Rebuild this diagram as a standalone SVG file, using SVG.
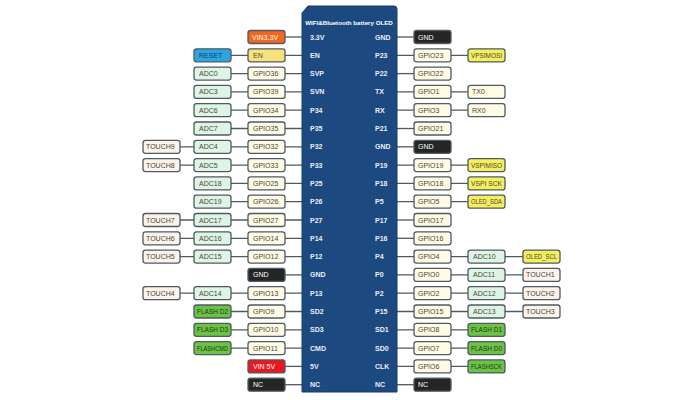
<svg xmlns="http://www.w3.org/2000/svg" width="700" height="400" viewBox="0 0 700 400">
<style>
rect.bx{stroke:#4f5a62;stroke-width:1.3}
.gp{fill:#fffbe4}
.adc{fill:#def4e4}
.tch{fill:#fcf2e9}
.dk{fill:#252525}
.yl{fill:#f5ee5e}
.fl{fill:#6bc244}
.en{fill:#f9e27b}
.rs{fill:#2aa6e0}
.or{fill:#f2661f}
.rd{fill:#e9181f}
text{font-family:"Liberation Sans",Arial,sans-serif;font-size:7px;fill:#4a4838}
.w{fill:#ffffff}
.g{fill:#1e3a12}
.nv{fill:#163c70}
.pin{fill:#e9eef6;font-weight:bold}
.ttl{fill:#ffffff;font-weight:bold;font-size:6.2px}
#connectors line{stroke:#4f5a62;stroke-width:1.3}
</style>
<rect width="700" height="400" fill="#ffffff"/>
<g id="connectors">
<line x1="285" y1="37" x2="302" y2="37"/>
<line x1="231" y1="55.3" x2="302" y2="55.3"/>
<line x1="231" y1="73.6" x2="302" y2="73.6"/>
<line x1="231" y1="91.9" x2="302" y2="91.9"/>
<line x1="231" y1="110.2" x2="302" y2="110.2"/>
<line x1="231" y1="128.5" x2="302" y2="128.5"/>
<line x1="179" y1="146.8" x2="302" y2="146.8"/>
<line x1="179" y1="165.1" x2="302" y2="165.1"/>
<line x1="231" y1="183.4" x2="302" y2="183.4"/>
<line x1="231" y1="201.7" x2="302" y2="201.7"/>
<line x1="179" y1="220" x2="302" y2="220"/>
<line x1="179" y1="238.3" x2="302" y2="238.3"/>
<line x1="179" y1="256.6" x2="302" y2="256.6"/>
<line x1="285" y1="274.9" x2="302" y2="274.9"/>
<line x1="179" y1="293.2" x2="302" y2="293.2"/>
<line x1="231" y1="311.5" x2="302" y2="311.5"/>
<line x1="231" y1="329.8" x2="302" y2="329.8"/>
<line x1="231" y1="348.1" x2="302" y2="348.1"/>
<line x1="285" y1="366.4" x2="302" y2="366.4"/>
<line x1="285" y1="384.7" x2="302" y2="384.7"/>
<line x1="397" y1="37" x2="414" y2="37"/>
<line x1="397" y1="55.3" x2="468" y2="55.3"/>
<line x1="397" y1="73.6" x2="414" y2="73.6"/>
<line x1="397" y1="91.9" x2="468" y2="91.9"/>
<line x1="397" y1="110.2" x2="468" y2="110.2"/>
<line x1="397" y1="128.5" x2="414" y2="128.5"/>
<line x1="397" y1="146.8" x2="414" y2="146.8"/>
<line x1="397" y1="165.1" x2="468" y2="165.1"/>
<line x1="397" y1="183.4" x2="468" y2="183.4"/>
<line x1="397" y1="201.7" x2="468" y2="201.7"/>
<line x1="397" y1="220" x2="414" y2="220"/>
<line x1="397" y1="238.3" x2="414" y2="238.3"/>
<line x1="397" y1="256.6" x2="523" y2="256.6"/>
<line x1="397" y1="274.9" x2="523" y2="274.9"/>
<line x1="397" y1="293.2" x2="523" y2="293.2"/>
<line x1="397" y1="311.5" x2="523" y2="311.5"/>
<line x1="397" y1="329.8" x2="468" y2="329.8"/>
<line x1="397" y1="348.1" x2="468" y2="348.1"/>
<line x1="397" y1="366.4" x2="468" y2="366.4"/>
<line x1="397" y1="384.7" x2="414" y2="384.7"/>
</g>
<g id="chip">
<path d="M308,6 L394,6 Q397,6 397,9 L397,392 L302,392 L302,13 Z" fill="#1c4a80" stroke="#173d6b" stroke-width="1"/>
<text class="ttl" x="349" y="25" text-anchor="middle">WIFI&amp;Bluetooth battery OLED</text>
<text class="pin" x="310" y="39.5">3.3V</text>
<text class="pin" x="310" y="57.8">EN</text>
<text class="pin" x="310" y="76.1">SVP</text>
<text class="pin" x="310" y="94.4">SVN</text>
<text class="pin" x="310" y="112.7">P34</text>
<text class="pin" x="310" y="131">P35</text>
<text class="pin" x="310" y="149.3">P32</text>
<text class="pin" x="310" y="167.6">P33</text>
<text class="pin" x="310" y="185.9">P25</text>
<text class="pin" x="310" y="204.2">P26</text>
<text class="pin" x="310" y="222.5">P27</text>
<text class="pin" x="310" y="240.8">P14</text>
<text class="pin" x="310" y="259.1">P12</text>
<text class="pin" x="310" y="277.4">GND</text>
<text class="pin" x="310" y="295.7">P13</text>
<text class="pin" x="310" y="314">SD2</text>
<text class="pin" x="310" y="332.3">SD3</text>
<text class="pin" x="310" y="350.6">CMD</text>
<text class="pin" x="310" y="368.9">5V</text>
<text class="pin" x="310" y="387.2">NC</text>
<text class="pin" x="375" y="39.5">GND</text>
<text class="pin" x="375" y="57.8">P23</text>
<text class="pin" x="375" y="76.1">P22</text>
<text class="pin" x="375" y="94.4">TX</text>
<text class="pin" x="375" y="112.7">RX</text>
<text class="pin" x="375" y="131">P21</text>
<text class="pin" x="375" y="149.3">GND</text>
<text class="pin" x="375" y="167.6">P19</text>
<text class="pin" x="375" y="185.9">P18</text>
<text class="pin" x="375" y="204.2">P5</text>
<text class="pin" x="375" y="222.5">P17</text>
<text class="pin" x="375" y="240.8">P16</text>
<text class="pin" x="375" y="259.1">P4</text>
<text class="pin" x="375" y="277.4">P0</text>
<text class="pin" x="375" y="295.7">P2</text>
<text class="pin" x="375" y="314">P15</text>
<text class="pin" x="375" y="332.3">SD1</text>
<text class="pin" x="375" y="350.6">SD0</text>
<text class="pin" x="375" y="368.9">CLK</text>
<text class="pin" x="375" y="387.2">NC</text>
</g>
<!-- left GPIO column -->
<g id="vin33"><rect class="bx or" x="248" y="30.5" width="37" height="13" rx="2.5"/><text class="w" x="252" y="39.5">VIN3.3V</text></g>
<g id="en"><rect class="bx en" x="248" y="48.8" width="37" height="13" rx="2.5"/><text x="253" y="57.8">EN</text></g>
<g id="gpio36"><rect class="bx gp" x="248" y="67.1" width="37" height="13" rx="2.5"/><text x="253" y="76.1">GPIO36</text></g>
<g id="gpio39"><rect class="bx gp" x="248" y="85.4" width="37" height="13" rx="2.5"/><text x="253" y="94.4">GPIO39</text></g>
<g id="gpio34"><rect class="bx gp" x="248" y="103.7" width="37" height="13" rx="2.5"/><text x="253" y="112.7">GPIO34</text></g>
<g id="gpio35"><rect class="bx gp" x="248" y="122" width="37" height="13" rx="2.5"/><text x="253" y="131">GPIO35</text></g>
<g id="gpio32"><rect class="bx gp" x="248" y="140.3" width="37" height="13" rx="2.5"/><text x="253" y="149.3">GPIO32</text></g>
<g id="gpio33"><rect class="bx gp" x="248" y="158.6" width="37" height="13" rx="2.5"/><text x="253" y="167.6">GPIO33</text></g>
<g id="gpio25"><rect class="bx gp" x="248" y="176.9" width="37" height="13" rx="2.5"/><text x="253" y="185.9">GPIO25</text></g>
<g id="gpio26"><rect class="bx gp" x="248" y="195.2" width="37" height="13" rx="2.5"/><text x="253" y="204.2">GPIO26</text></g>
<g id="gpio27"><rect class="bx gp" x="248" y="213.5" width="37" height="13" rx="2.5"/><text x="253" y="222.5">GPIO27</text></g>
<g id="gpio14"><rect class="bx gp" x="248" y="231.8" width="37" height="13" rx="2.5"/><text x="253" y="240.8">GPIO14</text></g>
<g id="gpio12"><rect class="bx gp" x="248" y="250.1" width="37" height="13" rx="2.5"/><text x="253" y="259.1">GPIO12</text></g>
<g id="gndL"><rect class="bx dk" x="248" y="268.4" width="37" height="13" rx="2.5"/><text class="w" x="253" y="277.4">GND</text></g>
<g id="gpio13"><rect class="bx gp" x="248" y="286.7" width="37" height="13" rx="2.5"/><text x="253" y="295.7">GPIO13</text></g>
<g id="gpio9"><rect class="bx gp" x="248" y="305" width="37" height="13" rx="2.5"/><text x="253" y="314">GPIO9</text></g>
<g id="gpio10"><rect class="bx gp" x="248" y="323.3" width="37" height="13" rx="2.5"/><text x="253" y="332.3">GPIO10</text></g>
<g id="gpio11"><rect class="bx gp" x="248" y="341.6" width="37" height="13" rx="2.5"/><text x="253" y="350.6">GPIO11</text></g>
<g id="vin5"><rect class="bx rd" x="248" y="359.9" width="37" height="13" rx="2.5"/><text class="w" x="253" y="368.9">VIN 5V</text></g>
<g id="ncL"><rect class="bx dk" x="248" y="378.2" width="37" height="13" rx="2.5"/><text class="w" x="253" y="387.2">NC</text></g>
<!-- left ADC column -->
<g id="reset"><rect class="bx rs" x="194" y="48.8" width="37" height="13" rx="2.5"/><text class="nv" x="199" y="57.8">RESET</text></g>
<g id="adc0"><rect class="bx adc" x="194" y="67.1" width="37" height="13" rx="2.5"/><text x="199" y="76.1">ADC0</text></g>
<g id="adc3"><rect class="bx adc" x="194" y="85.4" width="37" height="13" rx="2.5"/><text x="199" y="94.4">ADC3</text></g>
<g id="adc6"><rect class="bx adc" x="194" y="103.7" width="37" height="13" rx="2.5"/><text x="199" y="112.7">ADC6</text></g>
<g id="adc7"><rect class="bx adc" x="194" y="122" width="37" height="13" rx="2.5"/><text x="199" y="131">ADC7</text></g>
<g id="adc4"><rect class="bx adc" x="194" y="140.3" width="37" height="13" rx="2.5"/><text x="199" y="149.3">ADC4</text></g>
<g id="adc5"><rect class="bx adc" x="194" y="158.6" width="37" height="13" rx="2.5"/><text x="199" y="167.6">ADC5</text></g>
<g id="adc18"><rect class="bx adc" x="194" y="176.9" width="37" height="13" rx="2.5"/><text x="199" y="185.9">ADC18</text></g>
<g id="adc19"><rect class="bx adc" x="194" y="195.2" width="37" height="13" rx="2.5"/><text x="199" y="204.2">ADC19</text></g>
<g id="adc17"><rect class="bx adc" x="194" y="213.5" width="37" height="13" rx="2.5"/><text x="199" y="222.5">ADC17</text></g>
<g id="adc16"><rect class="bx adc" x="194" y="231.8" width="37" height="13" rx="2.5"/><text x="199" y="240.8">ADC16</text></g>
<g id="adc15"><rect class="bx adc" x="194" y="250.1" width="37" height="13" rx="2.5"/><text x="199" y="259.1">ADC15</text></g>
<g id="adc14"><rect class="bx adc" x="194" y="286.7" width="37" height="13" rx="2.5"/><text x="199" y="295.7">ADC14</text></g>
<g id="flashd2"><rect class="bx fl" x="194" y="305" width="37" height="13" rx="2.5"/><text class="g" x="197" y="314" textLength="31" lengthAdjust="spacingAndGlyphs">FLASH D2</text></g>
<g id="flashd3"><rect class="bx fl" x="194" y="323.3" width="37" height="13" rx="2.5"/><text class="g" x="197" y="332.3" textLength="31" lengthAdjust="spacingAndGlyphs">FLASH D3</text></g>
<g id="flashcmd"><rect class="bx fl" x="194" y="341.6" width="37" height="13" rx="2.5"/><text class="g" x="197" y="350.6" textLength="31" lengthAdjust="spacingAndGlyphs">FLASHCMD</text></g>
<!-- left TOUCH column -->
<g id="touch9"><rect class="bx tch" x="143" y="140.3" width="37" height="13" rx="2.5"/><text x="146" y="149.3">TOUCH9</text></g>
<g id="touch8"><rect class="bx tch" x="143" y="158.6" width="37" height="13" rx="2.5"/><text x="146" y="167.6">TOUCH8</text></g>
<g id="touch7"><rect class="bx tch" x="143" y="213.5" width="37" height="13" rx="2.5"/><text x="146" y="222.5">TOUCH7</text></g>
<g id="touch6"><rect class="bx tch" x="143" y="231.8" width="37" height="13" rx="2.5"/><text x="146" y="240.8">TOUCH6</text></g>
<g id="touch5"><rect class="bx tch" x="143" y="250.1" width="37" height="13" rx="2.5"/><text x="146" y="259.1">TOUCH5</text></g>
<g id="touch4"><rect class="bx tch" x="143" y="286.7" width="37" height="13" rx="2.5"/><text x="146" y="295.7">TOUCH4</text></g>
<!-- right GPIO column -->
<g id="gndR1"><rect class="bx dk" x="414" y="30.5" width="37" height="13" rx="2.5"/><text class="w" x="418" y="39.5">GND</text></g>
<g id="gpio23"><rect class="bx gp" x="414" y="48.8" width="37" height="13" rx="2.5"/><text x="418" y="57.8">GPIO23</text></g>
<g id="gpio22"><rect class="bx gp" x="414" y="67.1" width="37" height="13" rx="2.5"/><text x="418" y="76.1">GPIO22</text></g>
<g id="gpio1"><rect class="bx gp" x="414" y="85.4" width="37" height="13" rx="2.5"/><text x="418" y="94.4">GPIO1</text></g>
<g id="gpio3"><rect class="bx gp" x="414" y="103.7" width="37" height="13" rx="2.5"/><text x="418" y="112.7">GPIO3</text></g>
<g id="gpio21"><rect class="bx gp" x="414" y="122" width="37" height="13" rx="2.5"/><text x="418" y="131">GPIO21</text></g>
<g id="gndR2"><rect class="bx dk" x="414" y="140.3" width="37" height="13" rx="2.5"/><text class="w" x="418" y="149.3">GND</text></g>
<g id="gpio19"><rect class="bx gp" x="414" y="158.6" width="37" height="13" rx="2.5"/><text x="418" y="167.6">GPIO19</text></g>
<g id="gpio18"><rect class="bx gp" x="414" y="176.9" width="37" height="13" rx="2.5"/><text x="418" y="185.9">GPIO18</text></g>
<g id="gpio5"><rect class="bx gp" x="414" y="195.2" width="37" height="13" rx="2.5"/><text x="418" y="204.2">GPIO5</text></g>
<g id="gpio17"><rect class="bx gp" x="414" y="213.5" width="37" height="13" rx="2.5"/><text x="418" y="222.5">GPIO17</text></g>
<g id="gpio16"><rect class="bx gp" x="414" y="231.8" width="37" height="13" rx="2.5"/><text x="418" y="240.8">GPIO16</text></g>
<g id="gpio4"><rect class="bx gp" x="414" y="250.1" width="37" height="13" rx="2.5"/><text x="418" y="259.1">GPIO4</text></g>
<g id="gpio0"><rect class="bx gp" x="414" y="268.4" width="37" height="13" rx="2.5"/><text x="418" y="277.4">GPIO0</text></g>
<g id="gpio2"><rect class="bx gp" x="414" y="286.7" width="37" height="13" rx="2.5"/><text x="418" y="295.7">GPIO2</text></g>
<g id="gpio15"><rect class="bx gp" x="414" y="305" width="37" height="13" rx="2.5"/><text x="418" y="314">GPIO15</text></g>
<g id="gpio8"><rect class="bx gp" x="414" y="323.3" width="37" height="13" rx="2.5"/><text x="418" y="332.3">GPIO8</text></g>
<g id="gpio7"><rect class="bx gp" x="414" y="341.6" width="37" height="13" rx="2.5"/><text x="418" y="350.6">GPIO7</text></g>
<g id="gpio6"><rect class="bx gp" x="414" y="359.9" width="37" height="13" rx="2.5"/><text x="418" y="368.9">GPIO6</text></g>
<g id="ncR"><rect class="bx dk" x="414" y="378.2" width="37" height="13" rx="2.5"/><text class="w" x="418" y="387.2">NC</text></g>
<!-- right second column -->
<g id="vpsimosi"><rect class="bx yl" x="468" y="48.8" width="37" height="13" rx="2.5"/><text x="471" y="57.8" textLength="31" lengthAdjust="spacingAndGlyphs">VPSIMOSI</text></g>
<g id="tx0"><rect class="bx gp" x="468" y="85.4" width="37" height="13" rx="2.5"/><text x="472" y="94.4">TX0</text></g>
<g id="rx0"><rect class="bx gp" x="468" y="103.7" width="37" height="13" rx="2.5"/><text x="472" y="112.7">RX0</text></g>
<g id="vspimiso"><rect class="bx yl" x="468" y="158.6" width="37" height="13" rx="2.5"/><text x="471" y="167.6" textLength="31" lengthAdjust="spacingAndGlyphs">VSPIMISO</text></g>
<g id="vspisck"><rect class="bx yl" x="468" y="176.9" width="37" height="13" rx="2.5"/><text x="471" y="185.9" textLength="31" lengthAdjust="spacingAndGlyphs">VSPI SCK</text></g>
<g id="oledsda"><rect class="bx yl" x="468" y="195.2" width="37" height="13" rx="2.5"/><text x="471" y="204.2" textLength="31" lengthAdjust="spacingAndGlyphs">OLED_SDA</text></g>
<g id="adc10"><rect class="bx adc" x="468" y="250.1" width="37" height="13" rx="2.5"/><text x="473" y="259.1">ADC10</text></g>
<g id="adc11"><rect class="bx adc" x="468" y="268.4" width="37" height="13" rx="2.5"/><text x="473" y="277.4">ADC11</text></g>
<g id="adc12"><rect class="bx adc" x="468" y="286.7" width="37" height="13" rx="2.5"/><text x="473" y="295.7">ADC12</text></g>
<g id="adc13"><rect class="bx adc" x="468" y="305" width="37" height="13" rx="2.5"/><text x="473" y="314">ADC13</text></g>
<g id="flashd1"><rect class="bx fl" x="468" y="323.3" width="37" height="13" rx="2.5"/><text class="g" x="471" y="332.3" textLength="31" lengthAdjust="spacingAndGlyphs">FLASH D1</text></g>
<g id="flashd0"><rect class="bx fl" x="468" y="341.6" width="37" height="13" rx="2.5"/><text class="g" x="471" y="350.6" textLength="31" lengthAdjust="spacingAndGlyphs">FLASH D0</text></g>
<g id="flashsck"><rect class="bx fl" x="468" y="359.9" width="37" height="13" rx="2.5"/><text class="g" x="471" y="368.9" textLength="31" lengthAdjust="spacingAndGlyphs">FLASHSCK</text></g>
<!-- right third column -->
<g id="oledscl"><rect class="bx yl" x="523" y="250.1" width="37" height="13" rx="2.5"/><text x="526" y="259.1" textLength="31" lengthAdjust="spacingAndGlyphs">OLED_SCL</text></g>
<g id="touch1"><rect class="bx tch" x="523" y="268.4" width="37" height="13" rx="2.5"/><text x="526" y="277.4">TOUCH1</text></g>
<g id="touch2"><rect class="bx tch" x="523" y="286.7" width="37" height="13" rx="2.5"/><text x="526" y="295.7">TOUCH2</text></g>
<g id="touch3"><rect class="bx tch" x="523" y="305" width="37" height="13" rx="2.5"/><text x="526" y="314">TOUCH3</text></g>
</svg>
